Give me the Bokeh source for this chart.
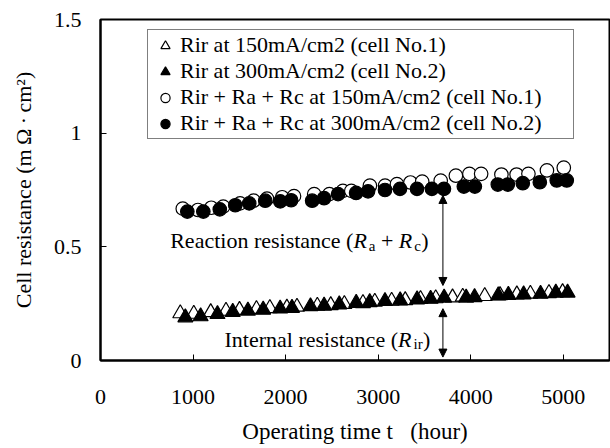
from bokeh.plotting import figure
from bokeh.models import (Range1d, FixedTicker, NumeralTickFormatter, Legend,
                          LegendItem, Arrow, NormalHead, Label)
from bokeh.embed import file_html
from bokeh.resources import INLINE

FONT = "Liberation Serif"

# ---- data ----
rir150_t = [862, 1008, 1191, 1356, 1502, 1685, 1830, 2014, 2123, 2343, 2488, 2635, 2836,
            2964, 3146, 3293, 3458, 3622, 3804, 3914, 4152, 4317, 4499, 4645, 4846, 4993]
rir150_r = [0.207, 0.205, 0.212, 0.218, 0.222, 0.226, 0.230, 0.232, 0.236, 0.240, 0.243, 0.248, 0.252,
            0.258, 0.262, 0.265, 0.270, 0.273, 0.277, 0.280, 0.283, 0.287, 0.290, 0.293, 0.296, 0.300]

rir300_t = [917, 1082, 1264, 1429, 1593, 1758, 1941, 2069, 2269, 2416, 2580, 2763, 2909,
            3074, 3238, 3421, 3567, 3713, 3951, 4042, 4298, 4407, 4572, 4755, 4920, 5047]
rir300_r = [0.189, 0.194, 0.204, 0.213, 0.219, 0.223, 0.228, 0.231, 0.238, 0.241, 0.246, 0.253, 0.256,
            0.261, 0.264, 0.268, 0.271, 0.276, 0.276, 0.278, 0.286, 0.288, 0.290, 0.293, 0.298, 0.298]

tot150_t = [889, 1053, 1197, 1326, 1508, 1654, 1799, 1963, 2091, 2309, 2473, 2619, 2710, 2911,
            3075, 3203, 3349, 3476, 3676, 3840, 3986, 4113, 4332, 4496, 4624, 4824, 5006]
tot150_r = [0.668, 0.662, 0.672, 0.677, 0.691, 0.703, 0.712, 0.718, 0.723, 0.732, 0.732, 0.746, 0.746, 0.769,
            0.769, 0.776, 0.783, 0.787, 0.791, 0.813, 0.821, 0.821, 0.818, 0.818, 0.821, 0.836, 0.848]

tot300_t = [938, 1111, 1289, 1456, 1607, 1780, 1942, 2060, 2287, 2416, 2567, 2762, 2891,
            3074, 3236, 3420, 3581, 3711, 3926, 4045, 4293, 4401, 4563, 4747, 4930, 5038]
tot300_r = [0.655, 0.655, 0.665, 0.683, 0.691, 0.703, 0.700, 0.705, 0.703, 0.714, 0.732, 0.737, 0.744,
            0.750, 0.755, 0.755, 0.755, 0.755, 0.765, 0.765, 0.774, 0.774, 0.780, 0.784, 0.792, 0.792]

labels = ["Rir at 150mA/cm2 (cell No.1)",
          "Rir at 300mA/cm2 (cell No.2)",
          "Rir + Ra + Rc at 150mA/cm2 (cell No.1)",
          "Rir + Ra + Rc at 300mA/cm2 (cell No.2)"]

x_ticks = [0, 1000, 2000, 3000, 4000, 5000]
y_ticks = [0, 0.5, 1.0, 1.5]

arrow_t = 3700
arrow_upper = (0.726, 0.330)
arrow_lower = (0.228, 0.015)
reaction_pos = (753, 0.526)
internal_pos = (1340, 0.093)

# ---- figure ----
p = figure(width=610, height=448, output_backend="svg", toolbar_location=None,
           x_range=Range1d(0, 5500), y_range=Range1d(0, 1.5),
           min_border_left=100, min_border_right=1, min_border_top=19, min_border_bottom=88)
p.xgrid.visible = False
p.ygrid.visible = False
p.outline_line_color = "black"
p.outline_line_width = 2
p.background_fill_color = "white"
p.border_fill_color = "white"

for ax in (p.xaxis[0], p.yaxis[0]):
    ax.axis_line_width = 2
    ax.axis_line_color = "black"
    ax.major_tick_in = 6
    ax.major_tick_out = 0
    ax.major_tick_line_width = 1
    ax.minor_tick_in = 0
    ax.minor_tick_out = 0
    ax.major_label_text_font = FONT
    ax.major_label_text_font_size = "22px"
    ax.major_label_text_color = "black"
    ax.axis_label_text_font = FONT
    ax.axis_label_text_font_size = "22px"
    ax.axis_label_text_font_style = "normal"
    ax.axis_label_text_color = "black"

p.xaxis.ticker = FixedTicker(ticks=x_ticks)
p.yaxis.ticker = FixedTicker(ticks=y_ticks)
p.yaxis.formatter = NumeralTickFormatter(format="0.[0]")
p.xaxis.major_label_standoff = 29
p.yaxis.major_label_standoff = 19
p.xaxis.axis_label = "Operating time t\u00a0\u00a0\u00a0(hour)"
p.xaxis.axis_label_text_font_size = "23px"
p.yaxis.axis_label = "Cell resistance (m\u2009\u03a9\u2009\u00b7\u2009cm\u00b2)"
p.xaxis.axis_label_standoff = 12
p.yaxis.axis_label_standoff = 15

# ---- series ----
r_oc = p.scatter(tot150_t, tot150_r, marker="circle", size=13.5,
                 fill_color="white", line_color="black", line_width=1.2)
r_fc = p.scatter(tot300_t, tot300_r, marker="circle", size=13.5,
                 fill_color="black", line_color="black", line_width=1.2)
r_ot = p.scatter(rir150_t, rir150_r, marker="triangle", size=15,
                 fill_color="white", line_color="black", line_width=1.2)
r_ft = p.scatter(rir300_t, rir300_r, marker="triangle", size=15,
                 fill_color="black", line_color="black", line_width=1.2)

legend = Legend(items=[LegendItem(label=labels[0], renderers=[r_ot]),
                       LegendItem(label=labels[1], renderers=[r_ft]),
                       LegendItem(label=labels[2], renderers=[r_oc]),
                       LegendItem(label=labels[3], renderers=[r_fc])],
                location=(47, 221), padding=2, spacing=-3, margin=0,
                glyph_width=30, glyph_height=23, label_height=23,
                label_standoff=-16, label_width=391,
                label_text_font=FONT, label_text_font_size="22px",
                label_text_color="black",
                border_line_color="black", border_line_width=1,
                background_fill_color="white", background_fill_alpha=1)
p.add_layout(legend)

# ---- arrows ----
for (ys, ye) in (arrow_upper, arrow_lower):
    p.add_layout(Arrow(x_start=arrow_t, y_start=ys, x_end=arrow_t, y_end=ye,
                       line_width=1, line_color="black",
                       start=NormalHead(size=8, fill_color="black", line_color="black", line_width=1),
                       end=NormalHead(size=8, fill_color="black", line_color="black", line_width=1)))

# ---- annotation texts ----
def add_parts(pos, parts):
    for txt, off, size, style, dy in parts:
        p.add_layout(Label(x=pos[0], y=pos[1], x_offset=off, y_offset=dy, text=txt,
                           text_font=FONT, text_font_size=size, text_font_style=style,
                           text_baseline="middle", text_align="left", text_color="black"))

add_parts(reaction_pos, [
    ("Reaction resistance (", 0, "22px", "normal", 0),
    ("R", 183.3, "22px", "italic", 0),
    ("a", 198.5, "15px", "normal", -5),
    ("+", 210.7, "22px", "normal", 0),
    ("R", 228.6, "22px", "italic", 0),
    ("c", 244.0, "15px", "normal", -5),
    (")", 251.0, "22px", "normal", 0),
])
add_parts(internal_pos, [
    ("Internal resistance (", 0, "22px", "normal", 0),
    ("R", 173.5, "22px", "italic", 0),
    ("ir", 189.0, "15px", "normal", -5),
    (")", 198.5, "22px", "normal", 0),
])

open("out.html", "w").write(file_html(p, INLINE))
